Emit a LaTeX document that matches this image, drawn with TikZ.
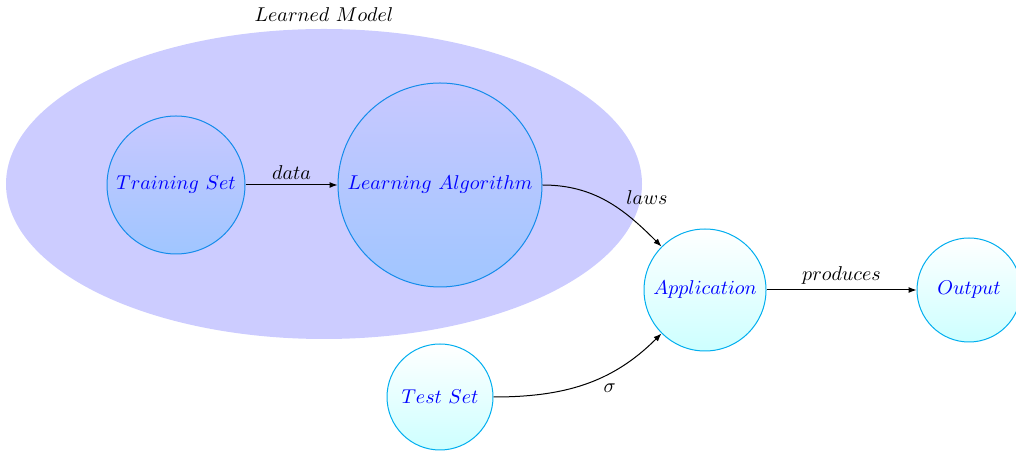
\documentclass[tikz,border=0pt]{standalone}
\usetikzlibrary{arrows.meta,shapes.geometric}
\definecolor{lav}{RGB}{204,204,255}
\definecolor{pcyan}{RGB}{0,174,239}
\definecolor{edgeb}{RGB}{20,140,235}
\definecolor{lbtop}{RGB}{200,200,255}
\definecolor{lbbot}{RGB}{160,198,255}
\definecolor{cybot}{RGB}{205,255,255}
\tikzset{
  inner/.style={circle, draw=edgeb, top color=lbtop, bottom color=lbbot, text=blue, inner sep=0pt, line width=0.5pt},
  outer/.style={circle, draw=pcyan, top color=white, bottom color=cybot, text=blue, inner sep=0pt, line width=0.5pt},
  conn/.style={-{Latex[length=4pt,width=3pt]}, line width=0.5pt},
  lbl/.style={inner sep=2.5pt}
}
\begin{document}
\begin{tikzpicture}[x=1pt,y=1pt]
\useasboundingbox (0,0) rectangle (508,227);
\node[ellipse, fill=lav, minimum width=318pt, minimum height=155pt, inner sep=0pt] (model) at (162,135) {};
\node[inner sep=1pt] (mlabel) at (162,219.5) {$Learned\ Model$};
\node[inner, minimum size=69pt] (train) at (88,134.5) {$Training\ Set$};
\node[inner, minimum size=102pt] (learn) at (220,134.5) {$Learning\ Algorithm$};
\node[outer, minimum size=61pt] (app) at (352.5,82) {$Application$};
\node[outer, minimum size=52pt] (out) at (484.5,82) {$Output$};
\node[outer, minimum size=53pt] (test) at (220,28.5) {$Test\ Set$};
\draw[conn] (train) -- node[above, lbl] {$data$} (learn);
\draw[conn] (learn.east) to[out=0, in=135] node[pos=0.62, above right, lbl] {$laws$} (app.north west);
\draw[conn] (test.east) to[out=0, in=225] node[pos=0.58, below right, lbl] {$\sigma$} (app.south west);
\draw[conn] (app) -- node[above, lbl] {$produces$} (out);
\end{tikzpicture}
\end{document}
